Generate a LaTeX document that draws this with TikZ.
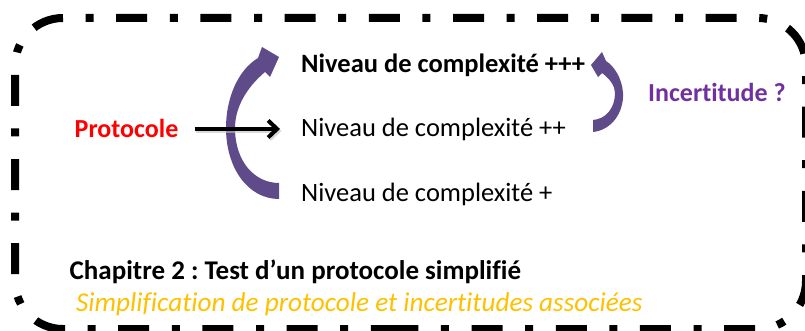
\documentclass[tikz,border=0pt]{standalone}
\usepackage{fontspec}
\setmainfont{Carlito}[Ligatures=NoCommon]
\frenchspacing
\usetikzlibrary{arrows.meta}
\definecolor{arrowpurple}{RGB}{95,74,138}
\definecolor{textpurple}{RGB}{112,48,160}
\definecolor{textorange}{RGB}{255,192,0}
\definecolor{textred}{RGB}{255,0,0}
\tikzset{
  txt/.style={anchor=base west, inner sep=0pt, font=\fontsize{26.5}{30}\selectfont},
  frame/.style={line width=8pt, dash pattern=on 31pt off 22.6pt on 8pt off 22.6pt},
  purplearrow/.style={fill=arrowpurple},
  blackarrow/.style={line width=4pt, -{Straight Barb[length=9pt,width=17pt,line width=4pt]}}
}
\begin{document}
\begin{tikzpicture}[x=1pt,y=-1pt]
\useasboundingbox (0,0) rectangle (805,331);
% frame, drawn in two halves from the top-left point
\draw[frame, dash phase=31pt] (63,18) -- (758,18) arc[start angle=90,end angle=0,x radius=48,y radius=-48]
  -- (806,281) arc[start angle=0,end angle=-90,x radius=48,y radius=-48] -- (400,329);
\draw[frame] (63,18) arc[start angle=90,end angle=180,x radius=48,y radius=-48]
  -- (15,281) arc[start angle=180,end angle=270,x radius=48,y radius=-48] -- (400,329);
% texts
\node[txt, font=\fontsize{26}{30}\selectfont\bfseries, text=textred] (proto) at (74.5,138) {Protocole};
\node[txt, font=\fontsize{26.5}{30}\selectfont\bfseries] (n3) at (301,73) {Niveau de complexité +++};
\node[txt] (n2) at (301,137) {Niveau de complexité ++};
\node[txt] (n1) at (301,201.5) {Niveau de complexité +};
\node[txt, font=\fontsize{26}{30}\selectfont\bfseries, text=textpurple] (inc) at (648,101.5) {Incertitude ?};
\node[txt, font=\fontsize{27}{30}\selectfont\bfseries] (chap) at (69.5,279) {Chapitre 2 : Test d’un protocole simplifié};
\node[txt, font=\fontsize{27.2}{30}\selectfont\itshape, text=textorange] (simp) at (76,311.5) {Simplification de protocole et incertitudes associées};
% left curved arrow
\fill[purplearrow] (279,199) .. controls (248,199) and (226,168) .. (226,128)
  .. controls (226,98) and (238,70) .. (258,58)
  -- (262,47) -- (279,57) -- (270,77) -- (265,72)
  .. controls (246,88) and (235,108) .. (235,128)
  .. controls (235,162) and (255,183) .. (279,183) -- cycle;
% right curved arrow
\fill[purplearrow] (593,132) .. controls (612,130) and (624,112) .. (623,93)
  .. controls (622,78) and (614,66) .. (606,61)
  -- (602,52) -- (591,65) -- (598,77) -- (602,73)
  .. controls (610,79) and (615,86) .. (615,93)
  .. controls (615,108) and (606,119) .. (593,120) -- cycle;
% black arrow with soft shadow
\draw[blackarrow, black!25, opacity=0.6, transform canvas={shift={(1.5pt,-2pt)}}] ([xshift=16pt]proto.east) -- ([xshift=-21pt]proto.east -| n2.west);
\draw[blackarrow] ([xshift=16pt]proto.east) -- ([xshift=-21pt]proto.east -| n2.west);
\end{tikzpicture}
\end{document}
